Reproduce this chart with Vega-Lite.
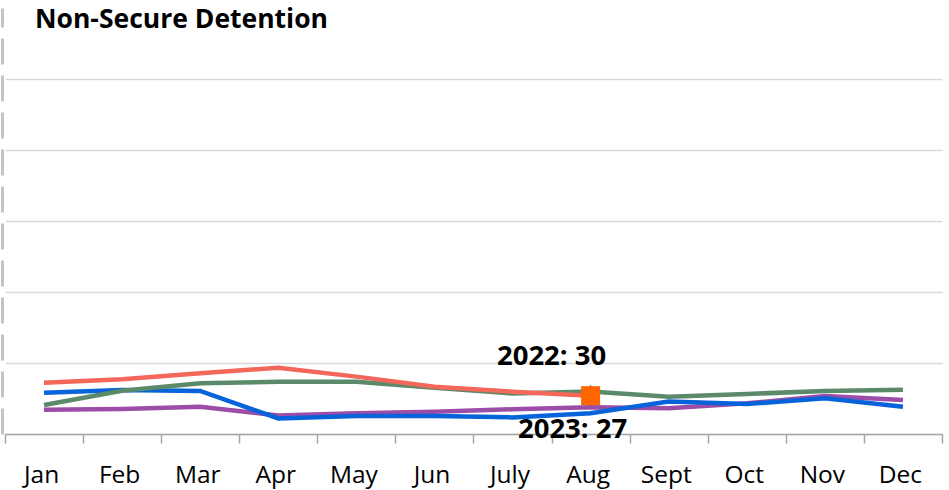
{
  "$schema": "https://vega.github.io/schema/vega-lite/v6.json",
  "width": 937,
  "height": 426,
  "autosize": {"type": "none"},
  "padding": {"left": 5, "top": 8, "right": 7, "bottom": 56},
  "background": "white",
  "title": {
    "text": "Non-Secure Detention",
    "anchor": "start",
    "frame": "group",
    "orient": "top",
    "baseline": "alphabetic",
    "offset": -46,
    "dx": 30,
    "font": "Open Sans",
    "fontSize": 26.5,
    "fontWeight": "bold",
    "color": "#000000"
  },
  "config": {"view": {"stroke": null}},
  "datasets": {
    "series": [
      {"month": "Jan", "year": "2020", "value": 17},
      {"month": "Feb", "year": "2020", "value": 17.6},
      {"month": "Mar", "year": "2020", "value": 19.2},
      {"month": "Apr", "year": "2020", "value": 13.1},
      {"month": "May", "year": "2020", "value": 14.6},
      {"month": "Jun", "year": "2020", "value": 15.7},
      {"month": "July", "year": "2020", "value": 17.4},
      {"month": "Aug", "year": "2020", "value": 18.8},
      {"month": "Sept", "year": "2020", "value": 18.1},
      {"month": "Oct", "year": "2020", "value": 21.6},
      {"month": "Nov", "year": "2020", "value": 26.8},
      {"month": "Dec", "year": "2020", "value": 23.9},
      {"month": "Jan", "year": "2021", "value": 29.1},
      {"month": "Feb", "year": "2021", "value": 31},
      {"month": "Mar", "year": "2021", "value": 30.3},
      {"month": "Apr", "year": "2021", "value": 11},
      {"month": "May", "year": "2021", "value": 12.7},
      {"month": "Jun", "year": "2021", "value": 12.7},
      {"month": "July", "year": "2021", "value": 11.7},
      {"month": "Aug", "year": "2021", "value": 14.6},
      {"month": "Sept", "year": "2021", "value": 22.8},
      {"month": "Oct", "year": "2021", "value": 21.1},
      {"month": "Nov", "year": "2021", "value": 25.1},
      {"month": "Dec", "year": "2021", "value": 19.2},
      {"month": "Jan", "year": "2022", "value": 20.4},
      {"month": "Feb", "year": "2022", "value": 30.5},
      {"month": "Mar", "year": "2022", "value": 35.7},
      {"month": "Apr", "year": "2022", "value": 36.8},
      {"month": "May", "year": "2022", "value": 36.8},
      {"month": "Jun", "year": "2022", "value": 32.6},
      {"month": "July", "year": "2022", "value": 28.5},
      {"month": "Aug", "year": "2022", "value": 30},
      {"month": "Sept", "year": "2022", "value": 26.3},
      {"month": "Oct", "year": "2022", "value": 28.2},
      {"month": "Nov", "year": "2022", "value": 30.3},
      {"month": "Dec", "year": "2022", "value": 31.2},
      {"month": "Jan", "year": "2023", "value": 36.1},
      {"month": "Feb", "year": "2023", "value": 38.5},
      {"month": "Mar", "year": "2023", "value": 42.7},
      {"month": "Apr", "year": "2023", "value": 46.7},
      {"month": "May", "year": "2023", "value": 40.4},
      {"month": "Jun", "year": "2023", "value": 33.3},
      {"month": "July", "year": "2023", "value": 29.8},
      {"month": "Aug", "year": "2023", "value": 27}
    ],
    "marks": [
      {"month": "Aug", "year": "2022", "value": 30, "label": "2022: 30"},
      {"month": "Aug", "year": "2023", "value": 27, "label": "2023: 27"}
    ]
  },
  "encoding": {
    "x": {
      "field": "month",
      "type": "nominal",
      "sort": ["Jan", "Feb", "Mar", "Apr", "May", "Jun", "July", "Aug", "Sept", "Oct", "Nov", "Dec"],
      "scale": {"type": "band", "paddingInner": 0, "paddingOuter": 0},
      "axis": {
        "title": null,
        "labelAngle": 0,
        "labelFont": "Open Sans",
        "labelFontSize": 24.5,
        "labelColor": "#000000",
        "labelBaseline": "alphabetic",
        "labelPadding": 39,
        "labelOffset": -3,
        "tickBand": "extent",
        "tickSize": 9,
        "tickColor": "#a6a6a6",
        "tickWidth": 1.5,
        "domainColor": "#a6a6a6",
        "domainWidth": 1.5,
        "grid": false
      }
    },
    "y": {
      "field": "value",
      "type": "quantitative",
      "scale": {"domain": [0, 300], "nice": false},
      "axis": {
        "title": null,
        "labels": false,
        "ticks": false,
        "values": [0, 50, 100, 150, 200, 250],
        "grid": true,
        "gridColor": "#d9d9d9",
        "gridWidth": 1.5,
        "offset": 3,
        "domainColor": "#c4c4c4",
        "domainWidth": 3,
        "domainDash": [26, 11]
      }
    }
  },
  "layer": [
    {
      "data": {"name": "series"},
      "mark": {"type": "line", "strokeWidth": 4.5},
      "encoding": {
        "color": {
          "field": "year",
          "type": "nominal",
          "scale": {"domain": ["2021", "2022", "2020", "2023"], "range": ["#0663D9", "#5B8A6B", "#9B4DA8", "#F4675B"]},
          "legend": null
        },
        "order": {"value": 0}
      }
    },
    {
      "data": {"name": "marks"},
      "transform": [{"filter": "datum.year == '2022'"}],
      "mark": {"type": "point", "shape": "triangle-up", "filled": true, "size": 250, "color": "#5B8A6B", "opacity": 1}
    },
    {
      "data": {"name": "marks"},
      "transform": [{"filter": "datum.year == '2023'"}],
      "mark": {"type": "square", "size": 361, "color": "#FF6600", "opacity": 1}
    },
    {
      "data": {"name": "marks"},
      "transform": [{"filter": "datum.year == '2022'"}],
      "mark": {"type": "text", "font": "Open Sans", "fontSize": 27.5, "fontWeight": "bold", "color": "#000000", "baseline": "alphabetic", "align": "center", "dx": -39, "dy": -26},
      "encoding": {"text": {"field": "label"}}
    },
    {
      "data": {"name": "marks"},
      "transform": [{"filter": "datum.year == '2023'"}],
      "mark": {"type": "text", "font": "Open Sans", "fontSize": 27.5, "fontWeight": "bold", "color": "#000000", "baseline": "alphabetic", "align": "center", "dx": -18, "dy": 42},
      "encoding": {"text": {"field": "label"}}
    }
  ]
}
